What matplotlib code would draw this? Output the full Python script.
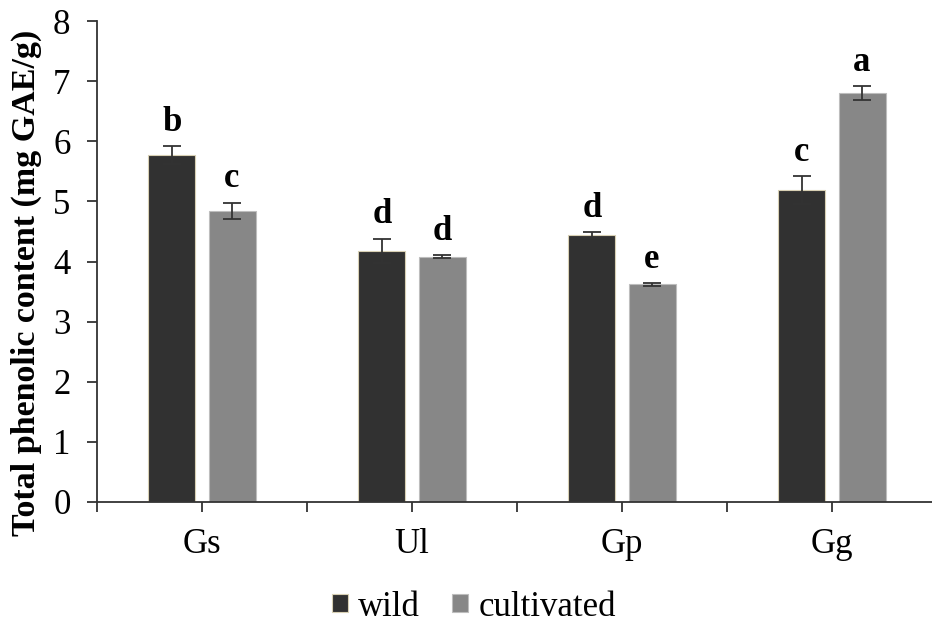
import matplotlib
matplotlib.use('Agg')
import matplotlib.pyplot as plt
import numpy as np

plt.rcParams['font.family'] = ['Liberation Serif', 'DejaVu Serif']

species = ['Gs', 'Ul', 'Gp', 'Gg']
wild = [5.77, 4.18, 4.44, 5.19]
wild_err = [0.15, 0.20, 0.05, 0.23]
cultivated = [4.84, 4.08, 3.62, 6.80]
cultivated_err = [0.14, 0.02, 0.02, 0.12]
wild_letters = ['b', 'd', 'd', 'c']
cultivated_letters = ['c', 'd', 'e', 'a']

fig = plt.figure(figsize=(9.32, 6.24), dpi=100)
ax = fig.add_axes([97 / 932, 122 / 624, 840 / 932, 481 / 624])

x = np.arange(len(species))
w = 0.224
off = 0.143
err_kw = dict(ecolor='#333333', elinewidth=1.3, capsize=6.5, capthick=1.3)

ax.bar(x - off, wild, w, yerr=wild_err, color='#313131', edgecolor='#d8d0b4',
       linewidth=0.8, error_kw=err_kw, label='wild')
ax.bar(x + off, cultivated, w, yerr=cultivated_err, color='#878787', edgecolor='#bdbdbd',
       linewidth=0.8, error_kw=err_kw, label='cultivated')

for i in range(len(species)):
    ax.text(x[i] - off, wild[i] + wild_err[i] + 0.12, wild_letters[i],
            ha='center', va='bottom', fontsize=25, fontweight='bold')
    ax.text(x[i] + off, cultivated[i] + cultivated_err[i] + 0.12, cultivated_letters[i],
            ha='center', va='bottom', fontsize=25, fontweight='bold')

ax.set_xlim(-0.5, 3.5)
ax.set_ylim(0, 8)
ax.set_yticks(range(0, 9))
# ticks at category centres and between categories, labels only at centres
tick_pos = np.arange(-0.5, 3.6, 0.5)
ax.set_xticks(tick_pos)
ax.set_xticklabels([species[int(p)] if p == int(p) and p >= 0 else '' for p in tick_pos])

for s in ['top', 'right']:
    ax.spines[s].set_visible(False)
for s in ['left', 'bottom']:
    ax.spines[s].set_color('#333333')
    ax.spines[s].set_linewidth(1.3)

ax.tick_params(axis='y', direction='out', length=7, width=1.3,
               color='#333333', labelsize=25, pad=12)
ax.tick_params(axis='x', direction='out', length=7, width=1.3,
               color='#333333', labelsize=25, pad=12)

ax.set_ylabel('Total phenolic content (mg GAE/g)', fontsize=24.5, fontweight='bold')
ax.yaxis.set_label_coords(-0.066, 0.455)

fig.legend(loc='center', bbox_to_anchor=(474 / 932, 1 - 607 / 624), ncol=2, frameon=False,
           fontsize=25, handlelength=0.47, handleheight=0.45, handletextpad=0.29,
           columnspacing=0.92)

fig.savefig('out.png', dpi=100)
